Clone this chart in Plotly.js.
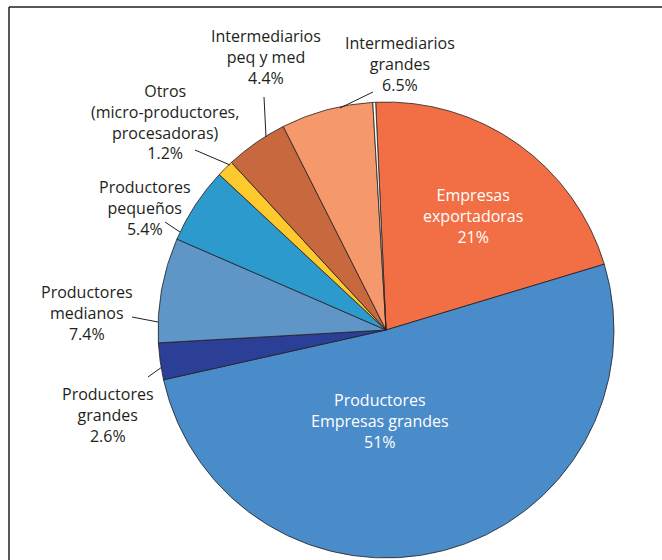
<!DOCTYPE html>
<html>
<head>
<meta charset="utf-8">
<script src="https://cdn.plot.ly/plotly-3.0.1.min.js"></script>
<style>html,body{margin:0;padding:0;background:#fff;}#chart{width:662px;height:560px;}</style>
</head>
<body>
<div id="chart"></div>
<script>
// Data
const categories = [
  'Empresas exportadoras',
  'Productores Empresas grandes',
  'Productores grandes',
  'Productores medianos',
  'Productores pequeños',
  'Otros (micro-productores, procesadoras)',
  'Intermediarios peq y med',
  'Intermediarios grandes',
  ''
];
const labelLines = [
  'Empresas<br>exportadoras',
  'Productores<br>Empresas grandes',
  'Productores<br>grandes',
  'Productores<br>medianos',
  'Productores<br>pequeños',
  'Otros<br>(micro-productores,<br>procesadoras)',
  'Intermediarios<br>peq y med',
  'Intermediarios<br>grandes',
  ''
];
const values = [21, 51, 2.6, 7.4, 5.4, 1.2, 4.4, 6.5, 0.2];
const valueText = ['21%', '51%', '2.6%', '7.4%', '5.4%', '1.2%', '4.4%', '6.5%', ''];
const colors = ['#f26e44', '#4a8bc9', '#2c3f97', '#6095c8', '#2c9acc', '#fdc92c', '#c8683f', '#f5986c', '#ffffff'];

// Layout (pixel positions of labels and leader lines)
const W = 662, H = 560;
const px = x => x / W;
const py = y => 1 - y / H;
const labelPos = [
  [473, 216], [380, 421], [108, 415], [87, 313], [145, 208], [165, 122], [266, 57], [400, 64], null
];
const leaders = [
  null, null,
  [[148, 377], [162, 367]],
  [[132, 317], [158, 322]],
  [[165, 222], [180, 232]],
  [[195, 150], [230, 165]],
  [[264, 97], [266, 137]],
  [[373, 92], [340, 108]],
  null
];
const inside = [true, true, false, false, false, false, false, false, false];

const annotations = [];
const shapes = [];
categories.forEach((c, i) => {
  if (!labelPos[i]) return;
  annotations.push({
    x: px(labelPos[i][0]), y: py(labelPos[i][1]), xref: 'paper', yref: 'paper',
    xanchor: 'center', yanchor: 'middle', showarrow: false, align: 'center',
    text: labelLines[i] + '<br>' + valueText[i],
    font: {family: 'Open Sans, sans-serif', size: 16, color: inside[i] ? '#ffffff' : '#231f20'}
  });
  if (leaders[i]) {
    shapes.push({type: 'line', xref: 'paper', yref: 'paper',
      x0: px(leaders[i][0][0]), y0: py(leaders[i][0][1]),
      x1: px(leaders[i][1][0]), y1: py(leaders[i][1][1]),
      line: {color: '#231f20', width: 1}});
  }
});
// frame
shapes.push({type: 'line', xref: 'paper', yref: 'paper', x0: px(9), y0: py(7), x1: 1, y1: py(7), line: {color: '#231f20', width: 1.5}});
shapes.push({type: 'line', xref: 'paper', yref: 'paper', x0: px(9), y0: py(7), x1: px(9), y1: 0, line: {color: '#231f20', width: 1.5}});

const trace = {
  type: 'pie',
  labels: categories.map((c, i) => c || ' '),
  values: values,
  sort: false,
  direction: 'clockwise',
  rotation: -2.6,
  textinfo: 'none',
  hoverinfo: 'label+percent',
  marker: {colors: colors, line: {color: '#231f20', width: 0.8}},
  domain: {x: [158 / W, 614 / W], y: [1 - 558 / H, 1 - 102 / H]},
  showlegend: false
};

Plotly.newPlot('chart', [trace], {
  width: W, height: H,
  margin: {l: 0, r: 0, t: 0, b: 0},
  paper_bgcolor: '#ffffff',
  showlegend: false,
  annotations: annotations,
  shapes: shapes
}, {displayModeBar: false, staticPlot: true});
</script>
</body>
</html>
